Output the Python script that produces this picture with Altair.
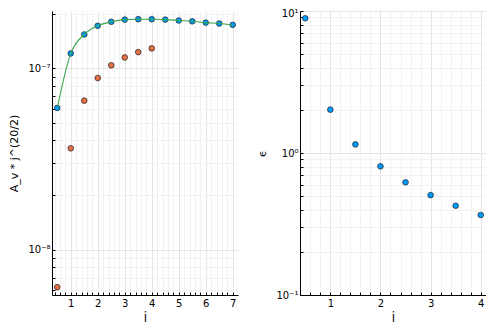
import altair as alt
import pandas as pd

# ---- data ----
j_blue = [0.5, 1.0, 1.5, 2.0, 2.5, 3.0, 3.5, 4.0, 4.5, 5.0, 5.5, 6.0, 6.5, 7.0]
av_blue = [6.05e-8, 1.21e-7, 1.54e-7, 1.72e-7, 1.81e-7, 1.86e-7, 1.87e-7,
           1.87e-7, 1.86e-7, 1.84e-7, 1.82e-7, 1.79e-7, 1.77e-7, 1.74e-7]
j_orange = [0.5, 1.0, 1.5, 2.0, 2.5, 3.0, 3.5, 4.0]
av_orange = [6.2e-9, 3.62e-8, 6.64e-8, 8.85e-8, 1.04e-7, 1.15e-7, 1.23e-7, 1.29e-7]
j_fit = j_blue
av_fit = av_blue
j_eps = [0.5, 1.0, 1.5, 2.0, 2.5, 3.0, 3.5, 4.0]
eps = [8.89, 2.02, 1.15, 0.806, 0.622, 0.505, 0.425, 0.366]

BLUE = "#009AFA"
ORANGE = "#E26F46"
GREEN = "#3EA44E"
FONT = "DejaVu Sans"

left_x_ticks = [round(0.4 + 0.2 * i, 1) for i in range(34)]
right_x_ticks = [round(0.4 + 0.2 * i, 1) for i in range(19)]
left_y_ticks = [m * 10 ** e for e in (-9, -8, -7) for m in range(1, 10)
                if 5.61e-9 <= m * 10 ** e <= 2.075e-7]
right_y_ticks = [m * 10 ** e for e in (-1, 0) for m in range(1, 10)] + [10]

lg = "log(datum.value)/LN10"
is_major_log = f"abs({lg} - round({lg})) < 1e-6"
is_major_lin = "abs(datum.value - round(datum.value)) < 1e-6"
sup_expr = (f"round({lg}) == -8 ? '10⁻⁸' : round({lg}) == -7 ? '10⁻⁷' : "
            f"round({lg}) == -1 ? '10⁻¹' : round({lg}) == 0 ? '10⁰' : "
            f"round({lg}) == 1 ? '10¹' : ''")


def grid_color(test):
    return {"condition": {"test": test, "value": "#e4e4e4"}, "value": "#f2f2f2"}


def x_axis(values):
    return alt.Axis(values=values, title="j", grid=True,
                    gridColor=grid_color(is_major_lin),
                    labelExpr=f"{is_major_lin} ? format(datum.value, 'd') : ''",
                    labelOverlap=False, tickSize={"expr": "-3"}, labelPadding=6,
                    titlePadding=3, titleFontSize=12)


def y_axis(values, title, title_pad):
    return alt.Axis(values=values, title=title, grid=True,
                    gridColor=grid_color(is_major_log),
                    labelExpr=f"{is_major_log} ? ({sup_expr}) : ''",
                    labelOverlap=False, tickSize={"expr": "-3"}, labelPadding=5,
                    labelOffset={"condition": {"test": "datum.value >= 9.99",
                                               "value": 2}, "value": 0},
                    titlePadding=title_pad)


df_blue = pd.DataFrame({"j": j_blue, "v": av_blue})
df_orange = pd.DataFrame({"j": j_orange, "v": av_orange})
df_fit = pd.DataFrame({"j": j_fit, "v": av_fit})
df_eps = pd.DataFrame({"j": j_eps, "e": eps})

lx = alt.Scale(domain=[0.305, 7.195], nice=False, zero=False)
ly = alt.Scale(type="log", domain=[5.61e-9, 2.075e-7], nice=False)
lxa = x_axis(left_x_ticks)
lya = y_axis(left_y_ticks, "A_v * j^(20/2)", 8)


def enc_left(ch):
    return ch.encode(
        x=alt.X("j:Q", scale=lx, axis=lxa),
        y=alt.Y("v:Q", scale=ly, axis=lya),
    )


pts_blue = enc_left(alt.Chart(df_blue).mark_circle(
    size=32, color=BLUE, opacity=1, stroke="#222", strokeWidth=0.7))
pts_orange = enc_left(alt.Chart(df_orange).mark_circle(
    size=32, color=ORANGE, opacity=1, stroke="#222", strokeWidth=0.7))
fit_line = enc_left(alt.Chart(df_fit).mark_line(
    color=GREEN, strokeWidth=1.1, interpolate="monotone"))

left = alt.layer(pts_blue, pts_orange, fit_line).properties(width=186, height=284)

rx = alt.Scale(domain=[0.395, 4.105], nice=False, zero=False)
ry = alt.Scale(type="log", domain=[0.1, 10], nice=False)
right = alt.Chart(df_eps).mark_circle(
    size=32, color=BLUE, opacity=1, stroke="#222", strokeWidth=0.7
).encode(
    x=alt.X("j:Q", scale=rx, axis=x_axis(right_x_ticks)),
    y=alt.Y("e:Q", scale=ry, axis=y_axis(right_y_ticks, "ϵ", 8)),
).properties(width=186, height=284)

chart = alt.hconcat(left, right, spacing=18).properties(
    padding={"left": 0, "top": 0, "right": 0, "bottom": 0}
).configure_view(stroke=None).configure_axis(
    domainColor="black", domainWidth=1, tickColor="black",
    labelFont=FONT, labelFontSize=10, labelColor="black",
    titleFont=FONT, titleFontSize=11, titleFontWeight="normal", titleColor="black",
)

chart.save("out.html", embed_options={"renderer": "svg", "actions": False})
